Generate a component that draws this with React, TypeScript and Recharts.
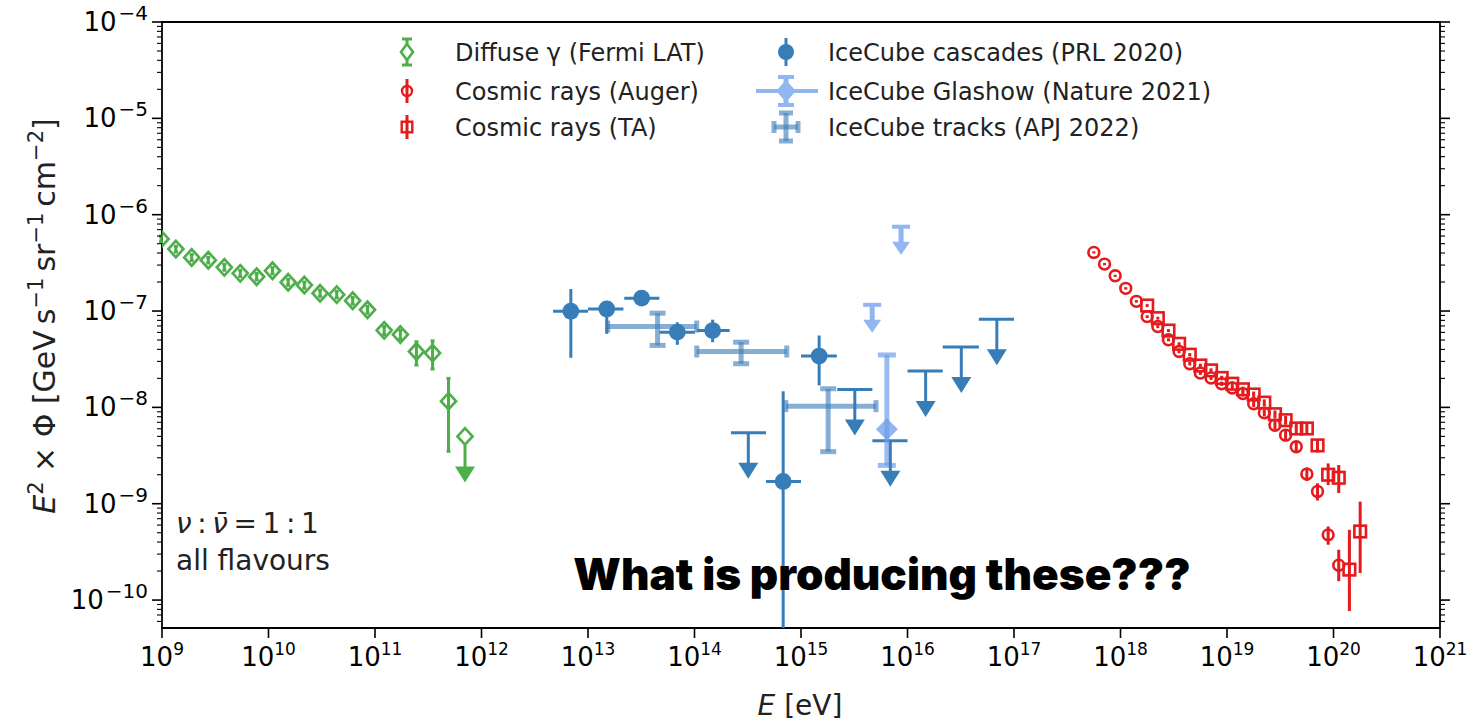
import React from "react";
import { ComposedChart, Scatter, XAxis, YAxis, ErrorBar, ReferenceArea } from "recharts";

const W = 1474;
const H = 723;

const GREEN = "#4daf4a";
const RED = "#e41a1c";
const BLUE = "#377eb8";
const GLASHOW = "#6d9eeb";
const TRACK = "rgba(62,126,184,0.62)";
const FONT = "'DejaVu Sans', sans-serif";

// axes work in log10 units
const X_DOMAIN: [number, number] = [9, 21];
const Y_DOMAIN: [number, number] = [-10.29, -4];
const X_TICKS = [9, 10, 11, 12, 13, 14, 15, 16, 17, 18, 19, 20, 21];

// Fermi-LAT diffuse gamma rays: [E (eV), E²Φ, lower, upper]
const fermi = [
  [9.8e8, 5.6e-7, 5.2e-7, 6.0e-7],
  [1.35e9, 4.4e-7, 4.1e-7, 4.7e-7],
  [1.9e9, 3.6e-7, 3.35e-7, 3.85e-7],
  [2.72e9, 3.37e-7, 3.15e-7, 3.6e-7],
  [3.85e9, 2.84e-7, 2.65e-7, 3.05e-7],
  [5.43e9, 2.46e-7, 2.28e-7, 2.65e-7],
  [7.74e9, 2.27e-7, 2.1e-7, 2.45e-7],
  [1.09e10, 2.62e-7, 2.43e-7, 2.82e-7],
  [1.53e10, 1.99e-7, 1.85e-7, 2.14e-7],
  [2.17e10, 1.86e-7, 1.72e-7, 2.0e-7],
  [3.05e10, 1.53e-7, 1.42e-7, 1.65e-7],
  [4.37e10, 1.48e-7, 1.37e-7, 1.6e-7],
  [6.17e10, 1.28e-7, 1.18e-7, 1.38e-7],
  [8.51e10, 1.03e-7, 9.5e-8, 1.12e-7],
  [1.22e11, 6.3e-8, 5.7e-8, 6.9e-8],
  [1.73e11, 5.7e-8, 5.1e-8, 6.3e-8],
  [2.45e11, 3.8e-8, 2.75e-8, 4.8e-8],
  [3.47e11, 3.66e-8, 2.5e-8, 4.9e-8],
  [4.9e11, 1.16e-8, 3.5e-9, 2.0e-8],
];
// Fermi upper limit: [E, E²Φ]
const fermiLimits = [[7.0e11, 5.0e-9]];

// Pierre Auger: [E, E²Φ, lower, upper]
const auger = [
  [5.62e17, 4.06e-7, 3.95e-7, 4.17e-7],
  [7.08e17, 3.07e-7, 2.99e-7, 3.15e-7],
  [8.91e17, 2.32e-7, 2.26e-7, 2.38e-7],
  [1.12e18, 1.72e-7, 1.67e-7, 1.77e-7],
  [1.41e18, 1.26e-7, 1.22e-7, 1.3e-7],
  [1.78e18, 8.75e-8, 8.45e-8, 9.05e-8],
  [2.24e18, 6.9e-8, 6.65e-8, 7.15e-8],
  [2.82e18, 5.03e-8, 4.84e-8, 5.22e-8],
  [3.55e18, 3.8e-8, 3.65e-8, 3.95e-8],
  [4.47e18, 2.84e-8, 2.72e-8, 2.96e-8],
  [5.62e18, 2.27e-8, 2.17e-8, 2.37e-8],
  [7.08e18, 2.02e-8, 1.92e-8, 2.12e-8],
  [8.91e18, 1.76e-8, 1.67e-8, 1.85e-8],
  [1.12e19, 1.59e-8, 1.5e-8, 1.68e-8],
  [1.41e19, 1.39e-8, 1.3e-8, 1.48e-8],
  [1.78e19, 1.09e-8, 1.01e-8, 1.17e-8],
  [2.24e19, 8.77e-9, 8.05e-9, 9.5e-9],
  [2.82e19, 6.53e-9, 5.9e-9, 7.2e-9],
  [3.55e19, 5.15e-9, 4.6e-9, 5.75e-9],
  [4.47e19, 3.9e-9, 3.4e-9, 4.45e-9],
  [5.62e19, 2.03e-9, 1.72e-9, 2.38e-9],
  [7.08e19, 1.34e-9, 1.08e-9, 1.63e-9],
  [8.91e19, 4.75e-10, 3.75e-10, 5.8e-10],
  [1.12e20, 2.3e-10, 1.57e-10, 3.33e-10],
];

// Telescope Array: [E, E²Φ, lower, upper]
const ta = [
  [1.78e18, 1.14e-7, 1.1e-7, 1.18e-7],
  [2.24e18, 8.43e-8, 8.15e-8, 8.72e-8],
  [2.82e18, 6.27e-8, 6.05e-8, 6.5e-8],
  [3.55e18, 4.57e-8, 4.4e-8, 4.74e-8],
  [4.47e18, 3.52e-8, 3.38e-8, 3.66e-8],
  [5.62e18, 2.72e-8, 2.6e-8, 2.84e-8],
  [7.08e18, 2.42e-8, 2.3e-8, 2.54e-8],
  [8.91e18, 2.02e-8, 1.91e-8, 2.13e-8],
  [1.12e19, 1.76e-8, 1.66e-8, 1.86e-8],
  [1.41e19, 1.54e-8, 1.44e-8, 1.64e-8],
  [1.78e19, 1.36e-8, 1.26e-8, 1.46e-8],
  [2.24e19, 1.12e-8, 1.03e-8, 1.21e-8],
  [2.82e19, 8.49e-9, 7.7e-9, 9.3e-9],
  [3.55e19, 7.36e-9, 6.6e-9, 8.15e-9],
  [4.47e19, 6.04e-9, 5.3e-9, 6.8e-9],
  [5.62e19, 6.04e-9, 5.2e-9, 6.9e-9],
  [7.08e19, 4.03e-9, 3.4e-9, 4.7e-9],
  [8.91e19, 2.0e-9, 1.56e-9, 2.62e-9],
  [1.12e20, 1.86e-9, 1.29e-9, 2.52e-9],
  [1.41e20, 2.07e-10, 7.7e-11, 5.36e-10],
  [1.78e20, 5.15e-10, 1.91e-10, 1.05e-9],
];

// IceCube cascades: [E, E²Φ, E low, E high, lower, upper]
const cascades = [
  [6.9e12, 9.95e-8, 4.7e12, 1.0e13, 3.27e-8, 1.69e-7],
  [1.5e13, 1.05e-7, 1.0e13, 2.15e13, 5.8e-8, 1.23e-7],
  [3.19e13, 1.36e-7, 2.19e13, 4.68e13, 1.26e-7, 1.46e-7],
  [6.9e13, 6.04e-8, 4.68e13, 1.01e14, 4.46e-8, 7.65e-8],
  [1.48e14, 6.27e-8, 1.05e14, 2.14e14, 4.75e-8, 8.14e-8],
  [6.8e14, 1.7e-9, 4.7e14, 1.0e15, 0, 1.47e-8],
  [1.48e15, 3.41e-8, 1.0e15, 2.17e15, 1.69e-8, 5.57e-8],
];
// IceCube cascade upper limits: [E, E²Φ, E low, E high]
const cascadeLimits = [
  [3.2e14, 5.44e-9, 2.2e14, 4.69e14],
  [3.2e15, 1.53e-8, 2.19e15, 4.68e15],
  [6.9e15, 4.5e-9, 4.68e15, 1.0e16],
  [1.48e16, 2.39e-8, 1.0e16, 2.14e16],
  [3.2e16, 4.23e-8, 2.14e16, 4.68e16],
  [6.9e16, 8.2e-8, 4.68e16, 1.0e17],
];

// IceCube Glashow event: [E, E²Φ, lower, upper], limits: [E, E²Φ]
const glashow = [[6.4e15, 5.94e-9, 2.5e-9, 3.5e-8]];
const glashowLimits = [
  [4.66e15, 1.16e-7],
  [8.7e15, 7.5e-7],
];

// IceCube tracks: [E, E²Φ, E low, E high, lower, upper]
const tracks = [
  [4.5e13, 6.9e-8, 1.53e13, 1.05e14, 4.4e-8, 9.5e-8],
  [2.74e14, 3.8e-8, 1.05e14, 7.35e14, 2.84e-8, 4.75e-8],
  [1.8e15, 1.03e-8, 7.2e14, 5.06e15, 3.47e-9, 1.56e-8],
];

// a zero lower bound is cut at the bottom of the axis
const lg = (v: number) => (v > 0 ? Math.log10(v) : Y_DOMAIN[0]);

const fluxPts = (rows: number[][]) =>
  rows.map(([e, f, lo, hi]) => {
    const x = lg(e), y = lg(f);
    return { x, y, ey: [y - lg(lo), lg(hi) - y] };
  });

const binnedPts = (rows: number[][]) =>
  rows.map(([e, f, elo, ehi, lo, hi]) => {
    const x = lg(e), y = lg(f);
    return { x, y, ex: [x - lg(elo), lg(ehi) - x], ey: [y - lg(lo), lg(hi) - y] };
  });

const limitPts = (rows: number[][]) =>
  rows.map(([e, f, elo, ehi]) => {
    const x = lg(e), y = lg(f);
    return { x, y, ex: elo ? [x - lg(elo), lg(ehi) - x] : [0, 0] };
  });

const Y_TICKS: number[] = [];
for (let n = -11; n <= -4; n++) {
  for (let k = 1; k <= 9; k++) {
    const v = n + Math.log10(k);
    if (v >= Y_DOMAIN[0] - 1e-9 && v <= Y_DOMAIN[1] + 1e-9) Y_TICKS.push(v);
  }
}
const isMajor = (v: number) => Math.abs(v - Math.round(v)) < 1e-6;

// ---- tick renderers ----
const XTick = ({ x, y, payload }: any) => (
  <g>
    <line x1={x} x2={x} y1={y} y2={y + 10} stroke="#000" strokeWidth={1.6} />
    <text x={x} y={y + 38} textAnchor="middle" fontFamily={FONT} fontSize={26} fill="#000">
      10<tspan dy={-11} fontSize={17}>{payload.value}</tspan>
    </text>
  </g>
);

const LeftTick = ({ x, y, payload }: any) => {
  const v = payload.value;
  const major = isMajor(v);
  return (
    <g>
      <line x1={x} x2={x - (major ? 10 : 5)} y1={y} y2={y} stroke="#000" strokeWidth={major ? 1.6 : 1.1} />
      {major && (
        <text x={x - 14} y={y + 9} textAnchor="end" fontFamily={FONT} fontSize={26} fill="#000">
          10<tspan dx={2} dy={-11} fontSize={20}>{"\u2212" + Math.abs(Math.round(v))}</tspan>
        </text>
      )}
    </g>
  );
};

const RightTick = ({ x, y, payload }: any) => {
  const major = isMajor(payload.value);
  return <line x1={x} x2={x + (major ? 10 : 5)} y1={y} y2={y} stroke="#000" strokeWidth={major ? 1.6 : 1.1} />;
};

// ---- marker shapes ----
const diamondPath = (cx: number, cy: number, hw: number, hh: number) =>
  `M${cx},${cy - hh}L${cx + hw},${cy}L${cx},${cy + hh}L${cx - hw},${cy}Z`;

const FermiMarker = ({ cx, cy }: any) => (
  <path d={diamondPath(cx, cy, 7.5, 8.2)} fill="none" stroke={GREEN} strokeWidth={2.7} />
);

const FermiLimitMarker = ({ cx, cy }: any) => (
  <g>
    <line x1={cx} x2={cx} y1={cy + 8} y2={cy + 32} stroke={GREEN} strokeWidth={3} />
    <path d={`M${cx - 10},${cy + 30}L${cx + 10},${cy + 30}L${cx},${cy + 46}Z`} fill={GREEN} />
    <path d={diamondPath(cx, cy, 7.5, 8.2)} fill="none" stroke={GREEN} strokeWidth={2.7} />
  </g>
);

const AugerMarker = ({ cx, cy }: any) => (
  <circle cx={cx} cy={cy} r={5.4} fill="none" stroke={RED} strokeWidth={2.6} />
);

const TAMarker = ({ cx, cy }: any) => (
  <rect x={cx - 5.8} y={cy - 5.8} width={11.6} height={11.6} fill="none" stroke={RED} strokeWidth={2.6} />
);

const CascadeMarker = ({ cx, cy }: any) => <circle cx={cx} cy={cy} r={8.4} fill={BLUE} />;

const CascadeLimitMarker = ({ cx, cy }: any) => (
  <g>
    <line x1={cx} x2={cx} y1={cy} y2={cy + 32} stroke={BLUE} strokeWidth={3} />
    <path d={`M${cx - 10},${cy + 30}L${cx + 10},${cy + 30}L${cx},${cy + 46}Z`} fill={BLUE} />
  </g>
);

const GlashowMarker = ({ cx, cy }: any) => (
  <path d={diamondPath(cx, cy, 11, 11)} fill={GLASHOW} fillOpacity={0.75} />
);

const GlashowLimitMarker = ({ cx, cy }: any) => (
  <g opacity={0.75}>
    <line x1={cx - 9} x2={cx + 9} y1={cy} y2={cy} stroke={GLASHOW} strokeWidth={4} />
    <line x1={cx} x2={cx} y1={cy} y2={cy + 18} stroke={GLASHOW} strokeWidth={5} />
    <path d={`M${cx - 9},${cy + 15}L${cx + 9},${cy + 15}L${cx},${cy + 28}Z`} fill={GLASHOW} />
  </g>
);

const NoMarker = () => <g />;

// ---- legend ----
const LEGEND_ROWS = [52, 91, 127];

function LegendGlyphs() {
  const [r1, r2, r3] = LEGEND_ROWS;
  const c1 = 407;
  const c2 = 786;
  return (
    <g>
      {/* Fermi */}
      <line x1={c1} x2={c1} y1={r1 - 13} y2={r1 + 13} stroke={GREEN} strokeWidth={3} />
      <line x1={c1 - 5} x2={c1 + 5} y1={r1 - 13} y2={r1 - 13} stroke={GREEN} strokeWidth={3} />
      <line x1={c1 - 5} x2={c1 + 5} y1={r1 + 13} y2={r1 + 13} stroke={GREEN} strokeWidth={3} />
      <path d={diamondPath(c1, r1, 6, 8)} fill="#fff" stroke={GREEN} strokeWidth={2.6} />
      {/* Auger */}
      <line x1={c1} x2={c1} y1={r2 - 12} y2={r2 + 12} stroke={RED} strokeWidth={3} />
      <circle cx={c1} cy={r2} r={5} fill="none" stroke={RED} strokeWidth={2.4} />
      {/* TA */}
      <line x1={c1} x2={c1} y1={r3 - 12} y2={r3 + 12} stroke={RED} strokeWidth={3} />
      <rect x={c1 - 5.3} y={r3 - 5.3} width={10.6} height={10.6} fill="none" stroke={RED} strokeWidth={2.4} />
      {/* cascades */}
      <line x1={c2} x2={c2} y1={r1 - 14} y2={r1 + 14} stroke={BLUE} strokeWidth={3} />
      <circle cx={c2} cy={r1} r={8} fill={BLUE} />
      {/* Glashow */}
      <g opacity={0.75}>
        <line x1={c2 - 30} x2={c2 + 32} y1={r2} y2={r2} stroke={GLASHOW} strokeWidth={4} />
        <line x1={c2} x2={c2} y1={r2 - 14} y2={r2 + 14} stroke={GLASHOW} strokeWidth={5} />
        <line x1={c2 - 8} x2={c2 + 8} y1={r2 - 14} y2={r2 - 14} stroke={GLASHOW} strokeWidth={4} />
        <line x1={c2 - 8} x2={c2 + 8} y1={r2 + 14} y2={r2 + 14} stroke={GLASHOW} strokeWidth={4} />
        <path d={diamondPath(c2, r2, 10, 11)} fill={GLASHOW} />
      </g>
      {/* tracks */}
      <g stroke={TRACK} strokeWidth={5}>
        <line x1={c2 - 12} x2={c2 + 12} y1={r3} y2={r3} />
        <line x1={c2} x2={c2} y1={r3 - 14} y2={r3 + 14} />
        <line x1={c2 - 7} x2={c2 + 7} y1={r3 - 14} y2={r3 - 14} />
        <line x1={c2 - 7} x2={c2 + 7} y1={r3 + 14} y2={r3 + 14} />
        <line x1={c2 - 12} x2={c2 - 12} y1={r3 - 6} y2={r3 + 6} />
        <line x1={c2 + 12} x2={c2 + 12} y1={r3 - 6} y2={r3 + 6} />
      </g>
    </g>
  );
}

const LEGEND_LEFT = ["Diffuse \u03B3 (Fermi LAT)", "Cosmic rays (Auger)", "Cosmic rays (TA)"];
const LEGEND_RIGHT = ["IceCube cascades (PRL 2020)", "IceCube Glashow (Nature 2021)", "IceCube tracks (APJ 2022)"];

function Overlay() {
  const sup = 21;
  return (
    <svg width={W} height={H} style={{ position: "absolute", left: 0, top: 0, pointerEvents: "none" }}>
      <LegendGlyphs />
      <g fontFamily={FONT} fontSize={24} fill="#222">
        {LEGEND_LEFT.map((t, i) => (
          <text key={t} x={455} y={LEGEND_ROWS[i] + 8.5}>{t}</text>
        ))}
        {LEGEND_RIGHT.map((t, i) => (
          <text key={t} x={828} y={LEGEND_ROWS[i] + 8.5}>{t}</text>
        ))}
      </g>

      {/* y axis title */}
      <text transform="translate(55,316) rotate(-90)" textAnchor="middle" fontFamily={FONT} fontSize={30} fill="#222">
        <tspan fontStyle="italic">E</tspan>
        <tspan dy={-12} fontSize={sup}>2</tspan>
        <tspan dy={12}>{" \u00D7 \u03A6 [GeV\u2009s"}</tspan>
        <tspan dy={-12} fontSize={sup}>{"\u22121"}</tspan>
        <tspan dy={12}>{"\u2009sr"}</tspan>
        <tspan dy={-12} fontSize={sup}>{"\u22121"}</tspan>
        <tspan dy={12}>{"\u2009cm"}</tspan>
        <tspan dy={-12} fontSize={sup}>{"\u22122"}</tspan>
        <tspan dy={12}>]</tspan>
      </text>

      {/* x axis title */}
      <text x={800} y={715} textAnchor="middle" fontFamily={FONT} fontSize={28} fill="#222">
        <tspan fontStyle="italic">E</tspan> [eV]
      </text>

      <g fontFamily={FONT} fontSize={28} fill="#222">
        <text x={176} y={533}>
          <tspan fontStyle="italic">{"\u03BD"}</tspan>
          {"\u2009:\u2009"}
          <tspan fontStyle="italic">{"\u03BD\u0304"}</tspan>
          {"\u2009=\u20091\u2009:\u20091"}
        </text>
        <text x={176} y={570}>all flavours</text>
      </g>

      <text x={882} y={590} textAnchor="middle" fontFamily="Inter, sans-serif" fontWeight={900} fontSize={44} fill="#000">
        What is producing these???
      </text>
    </svg>
  );
}

export default function App() {
  return (
    <div style={{ position: "absolute", left: 0, top: 0, width: W, height: H, background: "#fff" }}>
      <ComposedChart width={W} height={H} margin={{ top: 22, right: 14, bottom: 55, left: 102 }}>
        <XAxis
          type="number"
          dataKey="x"
          domain={X_DOMAIN}
          ticks={X_TICKS}
          interval={0}
          tickSize={0}
          tickMargin={0}
          axisLine={false}
          tickLine={false}
          tick={(p: any) => <XTick {...p} />}
          height={40}
          allowDataOverflow
        />
        <YAxis
          yAxisId="l"
          type="number"
          dataKey="y"
          domain={Y_DOMAIN}
          ticks={Y_TICKS}
          interval={0}
          tickSize={0}
          tickMargin={0}
          axisLine={false}
          tickLine={false}
          tick={(p: any) => <LeftTick {...p} />}
          width={60}
          allowDataOverflow
        />
        <YAxis
          yAxisId="r"
          orientation="right"
          type="number"
          dataKey="y"
          domain={Y_DOMAIN}
          ticks={Y_TICKS}
          interval={0}
          tickSize={0}
          tickMargin={0}
          axisLine={false}
          tickLine={false}
          tick={(p: any) => <RightTick {...p} />}
          width={20}
          allowDataOverflow
        />
        <ReferenceArea
          yAxisId="l"
          x1={X_DOMAIN[0]}
          x2={X_DOMAIN[1]}
          y1={Y_DOMAIN[0]}
          y2={Y_DOMAIN[1]}
          fill="none"
          fillOpacity={0}
          stroke="#000"
          strokeWidth={1.8}
        />

        <Scatter yAxisId="l" data={fluxPts(fermi)} shape={FermiMarker} isAnimationActive={false}>
          <ErrorBar dataKey="ey" direction="y" width={2} stroke={GREEN} strokeWidth={3} />
        </Scatter>
        <Scatter yAxisId="l" data={limitPts(fermiLimits)} shape={FermiLimitMarker} isAnimationActive={false} />

        <Scatter yAxisId="l" data={fluxPts(auger)} shape={AugerMarker} isAnimationActive={false}>
          <ErrorBar dataKey="ey" direction="y" width={0} stroke={RED} strokeWidth={3} />
        </Scatter>
        <Scatter yAxisId="l" data={fluxPts(ta)} shape={TAMarker} isAnimationActive={false}>
          <ErrorBar dataKey="ey" direction="y" width={0} stroke={RED} strokeWidth={3} />
        </Scatter>

        <Scatter yAxisId="l" data={binnedPts(cascades)} shape={CascadeMarker} isAnimationActive={false}>
          <ErrorBar dataKey="ey" direction="y" width={0} stroke={BLUE} strokeWidth={3} />
          <ErrorBar dataKey="ex" direction="x" width={0} stroke={BLUE} strokeWidth={3} />
        </Scatter>
        <Scatter yAxisId="l" data={limitPts(cascadeLimits)} shape={CascadeLimitMarker} isAnimationActive={false}>
          <ErrorBar dataKey="ex" direction="x" width={0} stroke={BLUE} strokeWidth={3} />
        </Scatter>

        <Scatter yAxisId="l" data={fluxPts(glashow)} shape={GlashowMarker} isAnimationActive={false}>
          <ErrorBar dataKey="ey" direction="y" width={9} stroke="rgba(109,158,235,0.7)" strokeWidth={5} />
        </Scatter>
        <Scatter yAxisId="l" data={limitPts(glashowLimits)} shape={GlashowLimitMarker} isAnimationActive={false} />

        <Scatter yAxisId="l" data={binnedPts(tracks)} shape={NoMarker} isAnimationActive={false}>
          <ErrorBar dataKey="ey" direction="y" width={8} stroke={TRACK} strokeWidth={5} />
          <ErrorBar dataKey="ex" direction="x" width={6} stroke={TRACK} strokeWidth={5} />
        </Scatter>
      </ComposedChart>
      <Overlay />
    </div>
  );
}
